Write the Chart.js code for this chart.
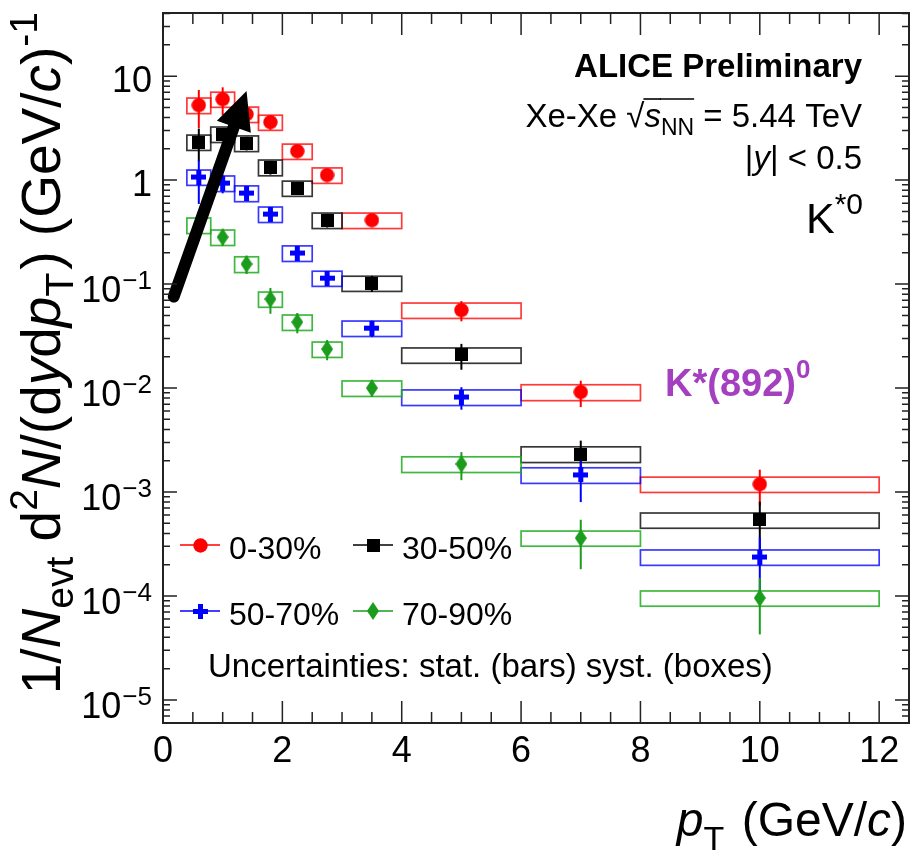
<!DOCTYPE html>
<html><head><meta charset="utf-8">
<script src="https://cdn.jsdelivr.net/npm/chart.js@4/dist/chart.umd.min.js"></script>
<style>html,body{margin:0;padding:0;background:#fff;overflow:hidden}</style>
</head><body>
<canvas id="c" width="917" height="856"></canvas>
<script>
// ---------------- data ----------------
const ptCenter = [0.6, 1.0, 1.4, 1.8, 2.25, 2.75, 3.5, 5.0, 7.0, 10.0];
const ptLow    = [0.4, 0.8, 1.2, 1.6, 2.0, 2.5, 3.0, 4.0, 6.0, 8.0];
const ptHigh   = [0.8, 1.2, 1.6, 2.0, 2.5, 3.0, 4.0, 6.0, 8.0, 12.0];

const yield0_30 = [5.26, 6.01, 4.31, 3.61, 1.90, 1.12, 0.412, 0.0562, 0.00916, 0.00119];
const stat0_30  = [2.1, 1.8, 0.86, 0.54, 0.19, 0.13, 0.033, 0.0124, 0.0026, 0.00045];
const syst0_30  = [0.9, 1.0, 0.73, 0.6, 0.32, 0.19, 0.07, 0.0095, 0.0016, 0.0002];

const yield30_50 = [2.32, 2.77, 2.27, 1.33, 0.838, 0.412, 0.102, 0.0208, 0.00232, 0.000538];
const stat30_50  = [0.81, 0.28, 0.34, 0.2, 0.084, 0.062, 0.018, 0.0058, 0.0008, 0.00027];
const syst30_50  = [0.39, 0.47, 0.39, 0.23, 0.14, 0.07, 0.017, 0.0035, 0.0004, 0.00009];

const yield50_70 = [1.07, 0.936, 0.750, 0.471, 0.199, 0.114, 0.0377, 0.00819, 0.00146, 0.000237];
const stat50_70  = [0.48, 0.19, 0.11, 0.057, 0.024, 0.017, 0.0068, 0.002, 0.00066, 0.00013];
const syst50_70  = [0.18, 0.16, 0.13, 0.08, 0.034, 0.019, 0.0064, 0.0014, 0.00025, 0.00004];

const yield70_90 = [0.369, 0.283, 0.156, 0.0718, 0.0431, 0.0237, 0.0100, 0.00186, 0.000361, 0.0000957];
const stat70_90  = [0.11, 0.051, 0.031, 0.02, 0.0095, 0.0052, 0.0018, 0.00056, 0.00018, 0.000053];
const syst70_90  = [0.063, 0.048, 0.027, 0.012, 0.0073, 0.004, 0.0017, 0.00032, 0.00006, 0.000016];

const centralityLabels = ['0-30%', '30-50%', '50-70%', '70-90%'];
const xTickValues = [0, 2, 4, 6, 8, 10, 12];
const yTickExponents = [1, 0, -1, -2, -3, -4, -5];

// arrow annotation in data coordinates (tail -> head)
const arrowTail = {x: 0.18, y: 0.076};
const arrowHead = {x: 1.40, y: 7.2};

// ---------------- styles ----------------
const FONT = '"Liberation Sans", Arial, Helvetica, sans-serif';
const styles = [
  {color: '#ff0000', box: 'rgba(255,0,0,0.78)'},
  {color: '#000000', box: 'rgba(20,20,20,0.85)'},
  {color: '#0000ff', box: 'rgba(0,0,255,0.78)'},
  {color: '#1c9c1c', box: 'rgba(30,170,30,0.85)'}
];
function mk(w, h, draw) {
  const c = document.createElement('canvas'); c.width = w; c.height = h;
  draw(c.getContext('2d'), w, h); return c;
}
const markers = [
  mk(15, 15, g => { g.fillStyle = '#ff0000'; g.beginPath(); g.arc(7.5, 7.5, 7.2, 0, 2 * Math.PI); g.fill(); }),
  mk(13, 13, g => { g.fillStyle = '#000'; g.fillRect(0, 0, 13, 13); }),
  mk(15, 15, g => { g.fillStyle = '#0000ff'; g.fillRect(5, 0, 5, 15); g.fillRect(0, 5, 15, 5); }),
  mk(12, 18, g => { g.fillStyle = '#1c9c1c'; g.beginPath(); g.moveTo(6, 0); g.lineTo(12, 9); g.lineTo(6, 18); g.lineTo(0, 9); g.closePath(); g.fill(); })
];

const series = [
  {label: centralityLabels[0], y: yield0_30, stat: stat0_30, syst: syst0_30},
  {label: centralityLabels[1], y: yield30_50, stat: stat30_50, syst: syst30_50},
  {label: centralityLabels[2], y: yield50_70, stat: stat50_70, syst: syst50_70},
  {label: centralityLabels[3], y: yield70_90, stat: stat70_90, syst: syst70_90}
];

// ---------------- helpers ----------------
function font(p) { return (p.style || 'normal') + ' ' + (p.weight || 'normal') + ' ' + p.size + 'px ' + FONT; }
function drawRich(ctx, parts, x, y, align) {
  let total = 0;
  parts.forEach(p => { ctx.font = font(p); p.w = ctx.measureText(p.t).width + (p.gap || 0); total += p.w; });
  let cx = align === 'right' ? x - total : (align === 'center' ? x - total / 2 : x);
  parts.forEach(p => {
    ctx.font = font(p); ctx.fillStyle = p.color || '#000';
    ctx.textAlign = 'left'; ctx.textBaseline = 'alphabetic';
    ctx.fillText(p.t, cx, y + (p.dy || 0));
    if (p.over) {
      ctx.strokeStyle = p.color || '#000'; ctx.lineWidth = 1.6;
      ctx.beginPath(); ctx.moveTo(cx - 1, y - p.over); ctx.lineTo(cx + p.w, y - p.over); ctx.stroke();
    }
    cx += p.w;
  });
}

const boxPlugin = {
  id: 'boxesAndBars',
  beforeDatasetsDraw(chart) {
    const ctx = chart.ctx, xs = chart.scales.x, ys = chart.scales.y;
    ctx.save();
    series.forEach((s, k) => {
      ctx.strokeStyle = styles[k].box; ctx.lineWidth = 1.7;
      s.y.forEach((v, i) => {
        const x0 = xs.getPixelForValue(ptLow[i]), x1 = xs.getPixelForValue(ptHigh[i]);
        const y0 = ys.getPixelForValue(v + s.syst[i]), y1 = ys.getPixelForValue(v - s.syst[i]);
        ctx.strokeRect(x0, y0, x1 - x0, y1 - y0);
      });
    });
    series.forEach((s, k) => {
      ctx.strokeStyle = styles[k].color; ctx.lineWidth = 2;
      s.y.forEach((v, i) => {
        const x = xs.getPixelForValue(ptCenter[i]);
        const lo = Math.max(v - s.stat[i], v * 0.05);
        ctx.beginPath();
        ctx.moveTo(x, ys.getPixelForValue(v + s.stat[i]));
        ctx.lineTo(x, ys.getPixelForValue(lo));
        ctx.stroke();
      });
    });
    ctx.restore();
  },
  afterDatasetsDraw(chart) {
    // big black arrow annotation
    const ctx = chart.ctx, xs = chart.scales.x, ys = chart.scales.y;
    const tx = xs.getPixelForValue(arrowTail.x), ty = ys.getPixelForValue(arrowTail.y);
    const hx = xs.getPixelForValue(arrowHead.x), hy = ys.getPixelForValue(arrowHead.y);
    const dx = hx - tx, dy = hy - ty, L = Math.hypot(dx, dy), ux = dx / L, uy = dy / L;
    const headLen = 38, headHalf = 18;
    const bx = hx - ux * headLen, by = hy - uy * headLen;
    ctx.save();
    ctx.strokeStyle = '#000'; ctx.fillStyle = '#000'; ctx.lineWidth = 12; ctx.lineCap = 'round';
    ctx.beginPath(); ctx.moveTo(tx, ty); ctx.lineTo(bx + ux * 4, by + uy * 4); ctx.stroke();
    ctx.beginPath();
    ctx.moveTo(hx, hy);
    ctx.lineTo(bx - uy * headHalf, by + ux * headHalf);
    ctx.lineTo(bx + uy * headHalf, by - ux * headHalf);
    ctx.closePath(); ctx.fill();
    ctx.restore();
  },
  afterDraw(chart) {
    const ctx = chart.ctx, xs = chart.scales.x, ys = chart.scales.y, a = chart.chartArea;
    ctx.save();
    // frame
    ctx.strokeStyle = '#222'; ctx.lineWidth = 2;
    ctx.strokeRect(a.left, a.top, a.right - a.left, a.bottom - a.top);
    ctx.lineWidth = 1.5;
    // x ticks (bottom and top)
    for (let v = 0; v <= xs.max + 1e-9; v += 0.5) {
      const x = xs.getPixelForValue(v);
      const len = (Math.abs(v / 2 - Math.round(v / 2)) < 1e-9) ? 22 : 11;
      ctx.beginPath();
      ctx.moveTo(x, a.bottom); ctx.lineTo(x, a.bottom - len);
      ctx.moveTo(x, a.top); ctx.lineTo(x, a.top + len);
      ctx.stroke();
    }
    // y ticks (left and right)
    for (let e = -6; e <= 1; e++) {
      for (let m = 1; m <= 9; m++) {
        const v = m * Math.pow(10, e);
        if (v < ys.min * 0.999 || v > ys.max * 1.001) continue;
        const y = ys.getPixelForValue(v);
        const len = m === 1 ? 14 : 7;
        ctx.beginPath();
        ctx.moveTo(a.left, y); ctx.lineTo(a.left + len, y);
        ctx.moveTo(a.right, y); ctx.lineTo(a.right - len, y);
        ctx.stroke();
      }
    }
    // x tick labels
    ctx.fillStyle = '#000'; ctx.font = '36px ' + FONT; ctx.textAlign = 'center'; ctx.textBaseline = 'alphabetic';
    xTickValues.forEach(v => ctx.fillText(String(v), xs.getPixelForValue(v), 762));
    // y tick labels
    yTickExponents.forEach(e => {
      const y = ys.getPixelForValue(Math.pow(10, e));
      const rx = 152;
      if (e === 1 || e === 0) {
        ctx.font = '36px ' + FONT; ctx.textAlign = 'right';
        ctx.fillText(e === 1 ? '10' : '1', rx, y + 16);
      } else {
        ctx.font = '26px ' + FONT; ctx.textAlign = 'right';
        const supTxt = '\u2212' + String(-e);
        const sw = ctx.measureText(supTxt).width;
        ctx.fillText(supTxt, rx, y + 5);
        ctx.font = '36px ' + FONT;
        ctx.fillText('10', rx - sw - 1, y + 18);
      }
    });
    ctx.textAlign = 'left';
    // axis titles
    const T = 48;
    drawRich(ctx, [
      {t: 'p', size: T, style: 'italic'},
      {t: 'T', size: Math.round(T * 0.7), dy: 14, gap: 4},
      {t: ' (GeV/', size: T},
      {t: 'c', size: T, style: 'italic'},
      {t: ')', size: T}
    ], 907, 836, 'right');
    const TY = 55;
    ctx.save();
    ctx.translate(60, 12); ctx.rotate(-Math.PI / 2);
    drawRich(ctx, [
      {t: '1/', size: TY},
      {t: 'N', size: TY, style: 'italic'},
      {t: 'evt', size: Math.round(TY * 0.7), dy: 13},
      {t: ' d', size: TY},
      {t: '2', size: Math.round(TY * 0.7), dy: -23},
      {t: 'N', size: TY, style: 'italic'},
      {t: '/(d', size: TY},
      {t: 'y', size: TY, style: 'italic'},
      {t: 'd', size: TY},
      {t: 'p', size: TY, style: 'italic'},
      {t: 'T', size: Math.round(TY * 0.7), dy: 13, gap: 3},
      {t: ') (GeV/', size: TY},
      {t: 'c', size: TY, style: 'italic'},
      {t: ')', size: TY},
      {t: '-1', size: Math.round(TY * 0.7), dy: -23}
    ], 0, 0, 'right');
    ctx.restore();
    // annotations top right
    drawRich(ctx, [{t: 'ALICE Preliminary', size: 33, weight: 'bold'}], 862, 77, 'right');
    drawRich(ctx, [
      {t: 'Xe-Xe ', size: 33},
      {t: '\u221A', size: 33},
      {t: 's', size: 33, style: 'italic', over: 28},
      {t: 'NN', size: 23, dy: 8, over: 28},
      {t: ' = 5.44 TeV', size: 33}
    ], 862, 127, 'right');
    drawRich(ctx, [
      {t: '|', size: 33},
      {t: 'y', size: 33, style: 'italic'},
      {t: '| < 0.5', size: 33}
    ], 862, 169, 'right');
    drawRich(ctx, [
      {t: 'K', size: 43},
      {t: '*0', size: 30, dy: -19}
    ], 863, 233, 'right');
    drawRich(ctx, [
      {t: 'K*(892)', size: 38, weight: 'bold', color: '#a43fbf'},
      {t: '0', size: 26, weight: 'bold', dy: -18, color: '#a43fbf'}
    ], 665, 396, 'left');
    // legend
    const legPos = [{x: 180, y: 545}, {x: 353, y: 545}, {x: 180, y: 611}, {x: 353, y: 611}];
    series.forEach((s, k) => {
      const p = legPos[k];
      ctx.strokeStyle = styles[k].color; ctx.lineWidth = 1.6;
      ctx.beginPath(); ctx.moveTo(p.x, p.y); ctx.lineTo(p.x + 40, p.y); ctx.stroke();
      const m = markers[k];
      ctx.drawImage(m, Math.round(p.x + 20 - m.width / 2), Math.round(p.y - m.height / 2));
      drawRich(ctx, [{t: s.label, size: 32}], p.x + 49, p.y + 14, 'left');
    });
    drawRich(ctx, [{t: 'Uncertainties: stat. (bars) syst. (boxes)', size: 33}], 208, 677, 'left');
    ctx.restore();
  }
};

const datasets = series.map((s, k) => ({
  label: s.label,
  data: ptCenter.map((x, i) => ({x: x, y: s.y[i]})),
  pointStyle: markers[k],
  pointRadius: 7,
  pointHoverRadius: 7,
  showLine: false,
  borderColor: styles[k].color,
  backgroundColor: styles[k].color
}));

new Chart(document.getElementById('c'), {
  type: 'scatter',
  data: {datasets: datasets},
  options: {
    responsive: false,
    animation: false,
    devicePixelRatio: 1,
    layout: {padding: {left: 163, top: 13, right: 7, bottom: 133}},
    plugins: {legend: {display: false}, tooltip: {enabled: false}},
    events: [],
    scales: {
      x: {type: 'linear', min: 0, max: 12.5, display: false},
      y: {type: 'logarithmic', min: 6e-6, max: 40.5, display: false}
    }
  },
  plugins: [boxPlugin]
});
</script>
</body></html>
